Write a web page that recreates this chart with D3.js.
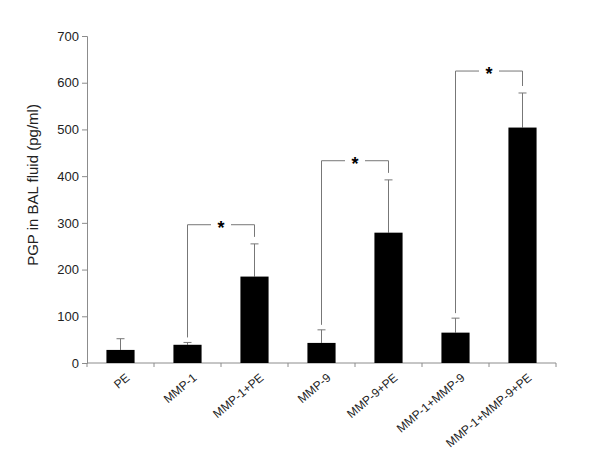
<!DOCTYPE html>
<html>
<head>
<meta charset="utf-8">
<script src="https://cdn.jsdelivr.net/npm/d3@7"></script>
<style>
  body { margin: 0; background: #fff; }
  text { font-family: "Liberation Sans", Arial, sans-serif; }
</style>
</head>
<body>
<svg id="chart" width="600" height="450"></svg>
<script>
// Data
const groups = ["PE", "MMP-1", "MMP-1+PE", "MMP-9", "MMP-9+PE", "MMP-1+MMP-9", "MMP-1+MMP-9+PE"];
const means = [28, 39, 185, 43, 279, 65, 504];
const errTops = [52, 44, 255, 71, 392, 96, 578];
const yTicks = [0, 100, 200, 300, 400, 500, 600, 700];

// significance brackets: [from index, to index, bracket level]
const bracketFrom = [1, 3, 5];
const bracketTo = [2, 4, 6];
const bracketLevel = [296, 433, 625];

const width = 600, height = 450;
const margin = {top: 36, right: 44, bottom: 87, left: 87};

const svg = d3.select("#chart");

const x = d3.scaleBand()
  .domain(groups)
  .range([margin.left, width - margin.right])
  .paddingInner(0.58)
  .paddingOuter(0.29);

const y = d3.scaleLinear()
  .domain([0, 700])
  .range([height - margin.bottom, margin.top]);

const axisColor = "#8c8c8c";

// Y axis
const yAxis = svg.append("g")
  .attr("transform", `translate(${margin.left},0)`)
  .call(d3.axisLeft(y).tickValues(yTicks).tickSize(5).tickPadding(3));
yAxis.select(".domain").attr("stroke", axisColor);
yAxis.selectAll(".tick line").attr("stroke", axisColor);
yAxis.selectAll(".tick text").attr("font-size", 13).attr("fill", "#222");

// X axis: ticks at the category boundaries
const step = x.step();
const xBounds = d3.range(groups.length + 1).map(i => margin.left + i * step);
svg.append("line")
  .attr("x1", margin.left).attr("x2", width - margin.right)
  .attr("y1", y(0)).attr("y2", y(0))
  .attr("stroke", axisColor);
svg.append("g").selectAll("line")
  .data(xBounds)
  .join("line")
  .attr("x1", d => d).attr("x2", d => d)
  .attr("y1", y(0)).attr("y2", y(0) + 4)
  .attr("stroke", axisColor);

// Category labels rotated
svg.append("g").selectAll("text")
  .data(groups)
  .join("text")
  .attr("transform", d => `translate(${x(d) + x.bandwidth() / 2 + 10},${y(0) + 16}) rotate(-40)`)
  .attr("text-anchor", "end")
  .attr("font-size", 12)
  .attr("fill", "#222")
  .text(d => d);

// Error bars (upper only)
const capW = 4;
const errG = svg.append("g").attr("stroke", "#777").attr("stroke-width", 1);
groups.forEach((g, i) => {
  const cx = x(g) + x.bandwidth() / 2;
  errG.append("line")
    .attr("x1", cx).attr("x2", cx)
    .attr("y1", y(means[i])).attr("y2", y(errTops[i]));
  errG.append("line")
    .attr("x1", cx - capW).attr("x2", cx + capW)
    .attr("y1", y(errTops[i])).attr("y2", y(errTops[i]));
});

// Bars
svg.append("g").selectAll("rect")
  .data(groups)
  .join("rect")
  .attr("x", d => x(d))
  .attr("width", x.bandwidth())
  .attr("y", (d, i) => y(means[i]))
  .attr("height", (d, i) => y(0) - y(means[i]))
  .attr("fill", "#000");

// Significance brackets
const brG = svg.append("g").attr("fill", "none").attr("stroke", "#777").attr("stroke-width", 1);
bracketLevel.forEach((lvl, k) => {
  const a = groups[bracketFrom[k]], b = groups[bracketTo[k]];
  const xa = x(a) + x.bandwidth() / 2;
  const xb = x(b) + x.bandwidth() / 2;
  const yl = y(lvl);
  const ya = y(errTops[bracketFrom[k]]) - 5;
  const yb = y(errTops[bracketTo[k]]) - 7;
  const xm = (xa + xb) / 2;
  const gap = 10;
  brG.append("path").attr("d", `M${xa},${ya}V${yl}H${xm - gap}`);
  brG.append("path").attr("d", `M${xm + gap},${yl}H${xb}V${yb}`);
  svg.append("text")
    .attr("x", xm)
    .attr("y", yl + 9)
    .attr("text-anchor", "middle")
    .attr("font-size", 18)
    .attr("font-weight", "bold")
    .attr("fill", "#000")
    .text("*");
});

// Y axis title
svg.append("text")
  .attr("transform", `translate(38,185) rotate(-90)`)
  .attr("text-anchor", "middle")
  .attr("font-size", 15)
  .attr("fill", "#222")
  .text("PGP in BAL fluid (pg/ml)");
</script>
</body>
</html>
